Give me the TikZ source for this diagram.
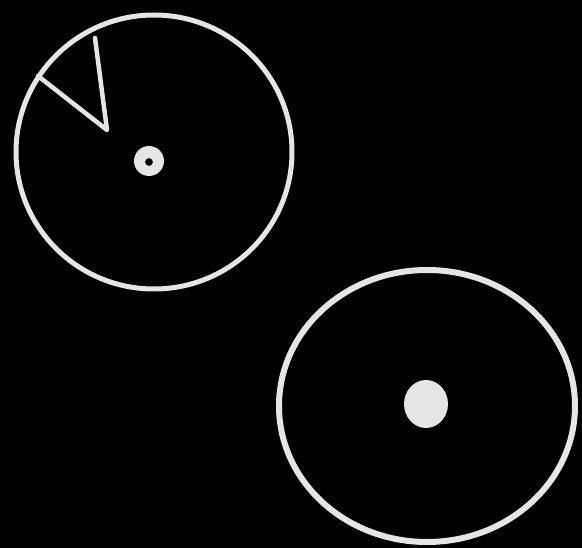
\documentclass[tikz,border=0pt]{standalone}
\begin{document}
\begin{tikzpicture}[x=1pt,y=-1pt,
  chalk/.style={draw=white!90!black, line width=5pt, line cap=round, line join=round}]
\fill[black] (0,0) rectangle (582,548);
\useasboundingbox (0,0) rectangle (582,548);
% first disc
\coordinate (c1) at (154,152);
\draw[chalk] (c1) ellipse [x radius=138, y radius=137];
\fill[white!90!black, even odd rule] (149,161) circle [radius=15] (149,162) circle [radius=4];
\coordinate (apex) at (107,130);
\coordinate (wl) at (38,76);
\coordinate (wt) at (95,38);
\draw[chalk, line width=4.5pt] (wl) -- (apex) -- (wt);
% second disc
\coordinate (c2) at (427,406);
\draw[chalk, line width=6pt] (c2) ellipse [x radius=148, y radius=136];
\fill[white!90!black] (426,404) ellipse [x radius=22, y radius=24];
\end{tikzpicture}
\end{document}
